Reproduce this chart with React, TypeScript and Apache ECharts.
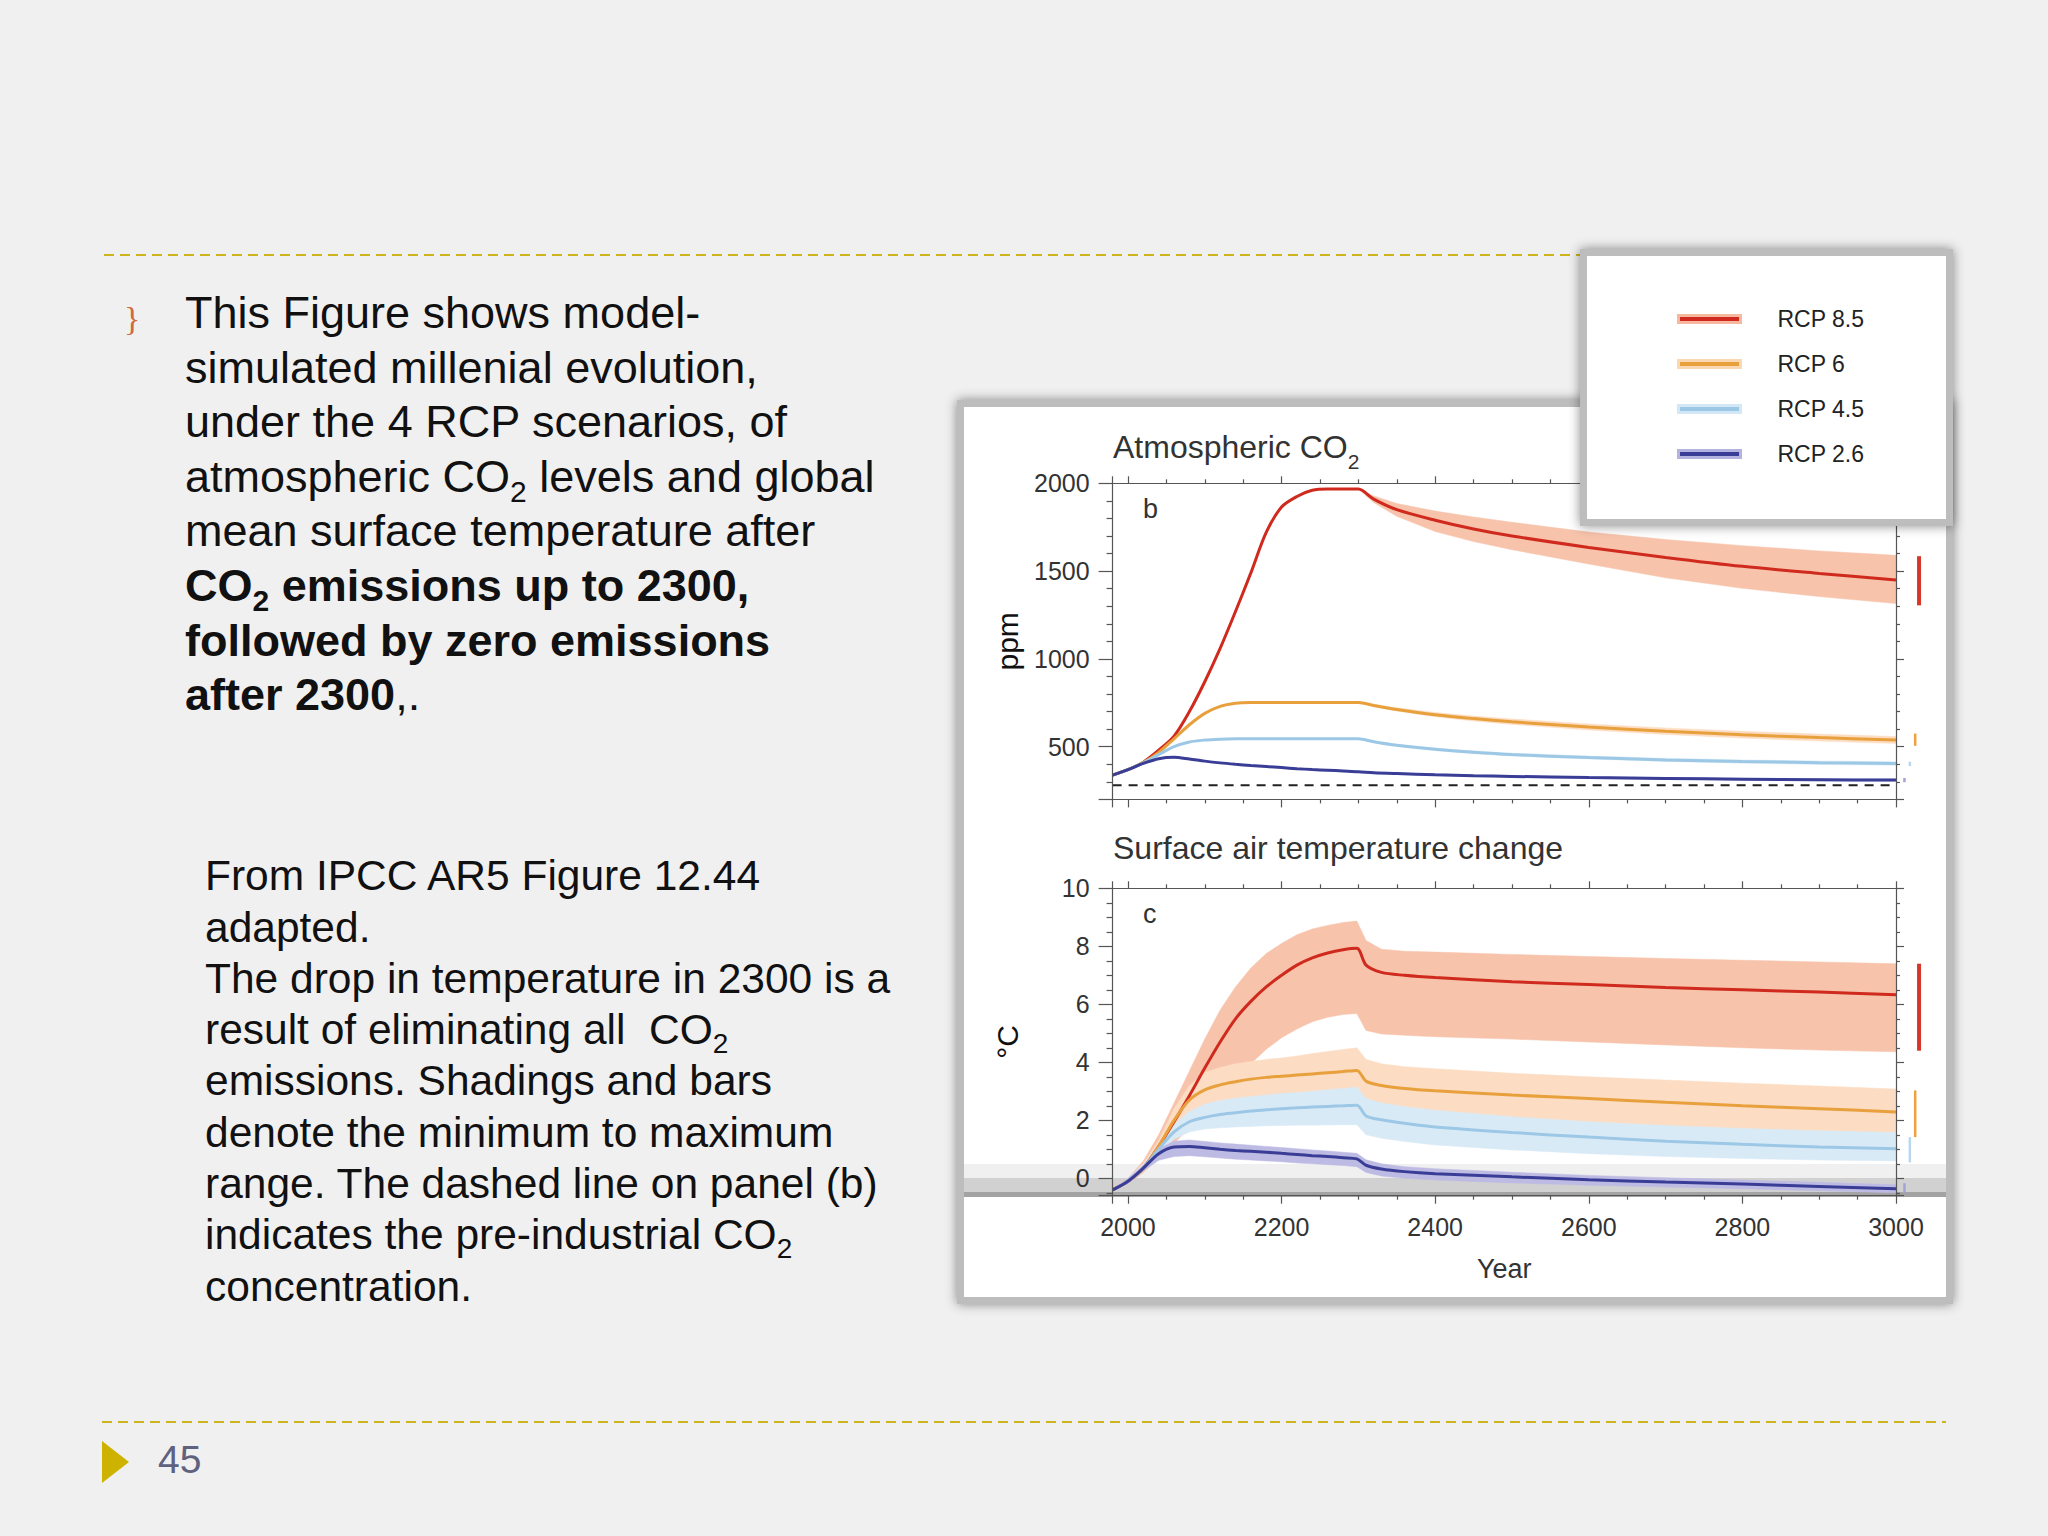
import React, { useEffect, useRef } from 'react';
import * as echarts from 'echarts';

const FONT = '"Liberation Sans", Arial, sans-serif';
const TXT = '#333333';

// ---------- legend / scenario names ----------
const scenarioNames = ['RCP 8.5', 'RCP 6', 'RCP 4.5', 'RCP 2.6'];
const lineColors = ['#cf2a1d', '#e8a03c', '#9cc8e6', '#3a3d96'];
const bandColors = ['#f7c3ab', '#fcdcc2', '#d9eaf7', '#bdbbe3'];
const haloColors = ['#f6b9a0', '#fbd8b4', '#d3e8f6', '#b4b3df'];
const barColors = ['#d9362b', '#f0a040', '#b8d8f0', '#a4a3d8'];

// ---------- panel b : atmospheric CO2 (ppm) ----------
const co2Years = [1980, 2000, 2020, 2040, 2060, 2080, 2100, 2120, 2140, 2160, 2180, 2200, 2220, 2240, 2260, 2280, 2300, 2320, 2350, 2400, 2450, 2500, 2600, 2700, 2800, 2900, 3000];
const co2RCP85 = [338, 369, 412, 480, 560, 700, 870, 1060, 1270, 1490, 1720, 1865, 1925, 1960, 1967, 1967, 1967, 1910, 1850, 1790, 1740, 1700, 1635, 1578, 1527, 1487, 1450];
const co2RCP6 = [338, 369, 410, 468, 545, 625, 690, 730, 748, 752, 752, 752, 752, 752, 752, 752, 752, 735, 712, 682, 660, 642, 612, 588, 568, 552, 538];
const co2RCP45 = [338, 369, 408, 455, 500, 527, 538, 543, 545, 545, 545, 545, 545, 545, 545, 545, 545, 528, 508, 485, 468, 455, 438, 425, 416, 409, 404];
const co2RCP26 = [338, 369, 405, 432, 440, 430, 418, 408, 400, 393, 387, 381, 375, 370, 366, 362, 358, 352, 347, 340, 335, 331, 324, 319, 315, 312, 310];

const co2BandYears = [2300, 2320, 2350, 2400, 2450, 2500, 2600, 2700, 2800, 2900, 3000];
const co2RCP85Lo = [1967, 1890, 1812, 1725, 1668, 1622, 1540, 1462, 1402, 1355, 1315];
const co2RCP85Hi = [1967, 1928, 1885, 1842, 1808, 1778, 1722, 1680, 1645, 1615, 1590];
const co2RCP6Lo = [752, 728, 703, 670, 646, 627, 595, 570, 549, 532, 518];
const co2RCP6Hi = [752, 742, 722, 695, 675, 658, 630, 607, 588, 572, 558];
const co2RCP45Lo = [545, 524, 502, 478, 460, 447, 430, 416, 406, 399, 394];
const co2RCP45Hi = [545, 532, 514, 492, 476, 463, 447, 434, 425, 419, 414];
const co2RCP26Lo = [358, 350, 344, 336, 331, 327, 320, 314, 310, 306, 304];
const co2RCP26Hi = [358, 354, 350, 344, 339, 335, 329, 324, 320, 318, 316];

const co2BarX = [3030, 3025, 3018, 3011];
const co2BarLo = [1305, 505, 390, 298];
const co2BarHi = [1585, 575, 415, 322];
const preIndustrialCO2 = 280;

// ---------- panel c : surface air temperature change (°C) ----------
const tempYears = [1980, 2000, 2020, 2040, 2060, 2080, 2100, 2120, 2140, 2160, 2180, 2200, 2220, 2240, 2260, 2280, 2298, 2310, 2330, 2360, 2400, 2500, 2600, 2700, 2800, 2900, 3000];
const tRCP85 = [-0.4, -0.1, 0.35, 1.1, 1.95, 2.85, 3.8, 4.7, 5.5, 6.1, 6.6, 7.0, 7.35, 7.6, 7.77, 7.88, 7.93, 7.35, 7.1, 7.0, 6.92, 6.78, 6.68, 6.58, 6.5, 6.42, 6.33];
const tRCP85Hi = [-0.3, 0.0, 0.6, 1.5, 2.6, 3.7, 4.8, 5.8, 6.6, 7.25, 7.75, 8.1, 8.4, 8.6, 8.72, 8.82, 8.87, 8.2, 7.9, 7.83, 7.8, 7.72, 7.65, 7.58, 7.52, 7.46, 7.4];
const tRCP85Lo = [-0.45, -0.2, 0.2, 0.7, 1.2, 1.75, 2.35, 2.9, 3.45, 3.95, 4.45, 4.85, 5.15, 5.4, 5.55, 5.65, 5.68, 5.1, 4.98, 4.93, 4.88, 4.8, 4.7, 4.6, 4.5, 4.42, 4.36];
const tRCP6 = [-0.4, -0.1, 0.35, 1.1, 2.0, 2.7, 3.05, 3.22, 3.33, 3.42, 3.48, 3.52, 3.56, 3.6, 3.64, 3.68, 3.72, 3.35, 3.2, 3.1, 3.02, 2.87, 2.75, 2.62, 2.5, 2.4, 2.29];
const tRCP6Hi = [-0.35, 0.0, 0.5, 1.3, 2.4, 3.2, 3.65, 3.82, 3.95, 4.03, 4.1, 4.15, 4.22, 4.3, 4.37, 4.44, 4.5, 4.1, 3.95, 3.85, 3.78, 3.62, 3.5, 3.39, 3.28, 3.18, 3.08];
const tRCP6Lo = [-0.45, -0.2, 0.25, 0.9, 1.5, 2.05, 2.3, 2.42, 2.5, 2.54, 2.57, 2.6, 2.63, 2.66, 2.69, 2.72, 2.75, 2.4, 2.25, 2.18, 2.1, 1.97, 1.85, 1.73, 1.62, 1.52, 1.42];
const tRCP45 = [-0.4, -0.1, 0.35, 1.0, 1.6, 1.95, 2.1, 2.2, 2.26, 2.32, 2.36, 2.4, 2.43, 2.46, 2.48, 2.5, 2.52, 2.15, 2.02, 1.9, 1.77, 1.58, 1.42, 1.28, 1.17, 1.08, 1.02];
const tRCP45Hi = [-0.35, 0.0, 0.5, 1.15, 1.85, 2.3, 2.55, 2.68, 2.76, 2.82, 2.87, 2.92, 2.96, 3.0, 3.05, 3.1, 3.15, 2.75, 2.6, 2.47, 2.35, 2.12, 1.95, 1.82, 1.72, 1.64, 1.58];
const tRCP45Lo = [-0.45, -0.2, 0.25, 0.85, 1.35, 1.6, 1.7, 1.74, 1.77, 1.79, 1.81, 1.82, 1.83, 1.83, 1.84, 1.85, 1.85, 1.5, 1.38, 1.27, 1.15, 0.98, 0.85, 0.75, 0.68, 0.63, 0.6];
const tRCP26 = [-0.4, -0.1, 0.35, 0.85, 1.08, 1.1, 1.05, 1.0, 0.96, 0.93, 0.9, 0.86, 0.82, 0.78, 0.75, 0.71, 0.67, 0.45, 0.32, 0.23, 0.16, 0.05, -0.05, -0.13, -0.2, -0.28, -0.36];
const tRCP26Hi = [-0.35, 0.0, 0.45, 1.02, 1.28, 1.32, 1.27, 1.22, 1.18, 1.14, 1.1, 1.06, 1.02, 0.98, 0.94, 0.9, 0.86, 0.64, 0.5, 0.4, 0.33, 0.21, 0.1, 0.02, -0.06, -0.14, -0.22];
const tRCP26Lo = [-0.45, -0.2, 0.25, 0.62, 0.75, 0.78, 0.74, 0.7, 0.66, 0.63, 0.6, 0.57, 0.53, 0.5, 0.47, 0.44, 0.4, 0.2, 0.08, 0.0, -0.06, -0.16, -0.24, -0.3, -0.36, -0.43, -0.5];

const tempBarX = [3030, 3025, 3018, 3011];
const tempBarLo = [4.4, 1.42, 0.55, -0.5];
const tempBarHi = [7.4, 3.03, 1.42, -0.17];

// ---------- slide texts ----------
const introLines = [
  '{n|This Figure shows model-}',
  '{n|simulated millenial evolution,}',
  '{n|under the 4 RCP scenarios, of}',
  '{n|atmospheric CO}{s|2}{n| levels and global}',
  '{n|mean surface temperature after}',
  '{b|CO}{bs|2}{b| emissions up to 2300,}',
  '{b|followed by zero emissions}',
  '{b|after 2300}{n|,.}',
];
const noteLines = [
  '{n|From IPCC AR5 Figure 12.44}',
  '{n|adapted.}',
  '{n|The drop in temperature in 2300 is a}',
  '{n|result of eliminating all  CO}{s|2}',
  '{n|emissions. Shadings and bars}',
  '{n|denote the minimum to maximum}',
  '{n|range. The dashed line on panel (b)}',
  '{n|indicates the pre-industrial CO}{s|2}',
  '{n|concentration.}',
];
const pageNumber = '45';

const AX = { color: '#555555', width: 1.2 };

function fmtYear(v: number) {
  return v >= 2000 && v % 200 === 0 ? String(v) : '';
}
function fmtPpm(v: number) {
  return v >= 500 && v % 500 === 0 ? String(v) : '';
}
function fmtTemp(v: number) {
  const r = Math.round(v);
  return v >= 0 && Math.abs(v - r) < 1e-6 && r % 2 === 0 ? String(r) : '';
}

function makeX(gridIndex: number, position: string, withLabels: boolean) {
  return {
    type: 'value', gridIndex, position, min: 1980, max: 3000, splitNumber: 5, minInterval: 200, maxInterval: 200, z: 4,
    axisLine: { show: true, onZero: false, lineStyle: AX },
    axisTick: { show: true, inside: false, length: position === 'top' ? 7 : 8, lineStyle: AX },
    minorTick: { show: true, splitNumber: 4, length: 4, lineStyle: AX },
    splitLine: { show: false },
    minorSplitLine: { show: false },
    axisLabel: withLabels
      ? { show: true, margin: 19, fontSize: 25, fontFamily: FONT, color: TXT, formatter: fmtYear }
      : { show: false },
    name: withLabels ? 'Year' : '',
    nameLocation: 'middle', nameGap: 60,
    nameTextStyle: { fontSize: 27, fontFamily: FONT, color: TXT },
  };
}

function makeY(gridIndex: number, position: string, min: number, max: number, step: number, minorSplit: number,
  withLabels: boolean, name: string, fmt: (v: number) => string) {
  const left = position === 'left';
  return {
    type: 'value', gridIndex, position, min, max, splitNumber: 5, minInterval: step, maxInterval: step, z: 4,
    axisLine: { show: true, onZero: false, lineStyle: AX },
    axisTick: { show: true, inside: false, length: left ? 14 : 8, lineStyle: AX },
    minorTick: { show: true, splitNumber: minorSplit, length: left ? 6 : 4, lineStyle: AX },
    splitLine: { show: false },
    minorSplitLine: { show: false },
    axisLabel: withLabels
      ? { show: true, margin: 23, fontSize: 25, fontFamily: FONT, color: TXT, formatter: fmt }
      : { show: false },
    name: withLabels ? name : '',
    nameLocation: 'middle', nameGap: 90, nameRotate: 90,
    nameTextStyle: { fontSize: 30, fontFamily: FONT, color: '#111111' },
  };
}

function bandSeries(name: string, ai: number, years: number[], lo: number[], hi: number[], color: string) {
  const data = years.map((y, i) => [y, lo[i], hi[i]]);
  return {
    type: 'custom', name, xAxisIndex: ai, yAxisIndex: ai, z: 2, silent: true,
    data, encode: { x: 0, y: [1, 2] },
    renderItem: (params: any, api: any) => {
      if (params.dataIndex !== 0) return null;
      const top = data.map((d) => api.coord([d[0], d[2]]));
      const bot = data.map((d) => api.coord([d[0], d[1]])).reverse();
      return {
        type: 'polygon',
        shape: { points: top.concat(bot) },
        style: { fill: color, stroke: color, lineWidth: 0.5 },
      };
    },
  };
}

function lineSeries(name: string, ai: number, years: number[], vals: number[], color: string) {
  return {
    type: 'line', name, xAxisIndex: ai, yAxisIndex: ai, z: 3, silent: true,
    data: years.map((y, i) => [y, vals[i]]),
    symbol: 'none', showSymbol: false, smooth: 0.3,
    lineStyle: { color, width: 3 }, itemStyle: { color },
  };
}

function barSeries(name: string, ai: number, x: number, lo: number, hi: number, color: string, width: number) {
  return {
    type: 'custom', name, xAxisIndex: ai, yAxisIndex: ai, z: 3, silent: true, clip: false,
    data: [[x, lo, hi]], encode: { x: 0, y: [1, 2] },
    renderItem: (params: any, api: any) => {
      const p1 = api.coord([api.value(0), api.value(1)]);
      const p2 = api.coord([api.value(0), api.value(2)]);
      return {
        type: 'line',
        shape: { x1: p1[0], y1: p1[1], x2: p2[0], y2: p2[1] },
        style: { stroke: color, lineWidth: width },
      };
    },
  };
}

function buildOption() {
  const co2Lines = [co2RCP85, co2RCP6, co2RCP45, co2RCP26];
  const co2Lo = [co2RCP85Lo, co2RCP6Lo, co2RCP45Lo, co2RCP26Lo];
  const co2Hi = [co2RCP85Hi, co2RCP6Hi, co2RCP45Hi, co2RCP26Hi];
  const tLines = [tRCP85, tRCP6, tRCP45, tRCP26];
  const tLo = [tRCP85Lo, tRCP6Lo, tRCP45Lo, tRCP26Lo];
  const tHi = [tRCP85Hi, tRCP6Hi, tRCP45Hi, tRCP26Hi];

  const series: any[] = [];
  scenarioNames.forEach((n, i) => series.push(bandSeries(n + ' CO2 range', 0, co2BandYears, co2Lo[i], co2Hi[i], bandColors[i])));
  scenarioNames.forEach((n, i) => series.push(bandSeries(n + ' temperature range', 1, tempYears, tLo[i], tHi[i], bandColors[i])));
  series.push({
    type: 'line', name: 'Pre-industrial CO2', xAxisIndex: 0, yAxisIndex: 0, z: 3, silent: true,
    data: [[1980, preIndustrialCO2], [3000, preIndustrialCO2]], symbol: 'none',
    lineStyle: { color: '#222222', width: 2, type: [9, 7] },
  });
  scenarioNames.forEach((n, i) => series.push(lineSeries(n, 0, co2Years, co2Lines[i], lineColors[i])));
  scenarioNames.forEach((n, i) => series.push(lineSeries(n, 1, tempYears, tLines[i], lineColors[i])));
  scenarioNames.forEach((n, i) => series.push(barSeries(n + ' CO2 bar', 0, co2BarX[i], co2BarLo[i], co2BarHi[i], barColors[i], i === 0 ? 4 : 2.5)));
  scenarioNames.forEach((n, i) => series.push(barSeries(n + ' temperature bar', 1, tempBarX[i], tempBarLo[i], tempBarHi[i], barColors[i], i === 0 ? 4 : 2.5)));

  const nStyle = { fontSize: 45, fontFamily: FONT, fill: '#111111' };
  const bStyle = { ...nStyle, fontWeight: 'bold' };
  const sStyle = { fontSize: 30, fontFamily: FONT, fill: '#111111', padding: [30, 0, 0, 0] };
  const bsStyle = { ...sStyle, fontWeight: 'bold' };
  const n2 = { fontSize: 42.5, fontFamily: FONT, fill: '#111111' };
  const s2 = { fontSize: 28, fontFamily: FONT, fill: '#111111', padding: [28, 0, 0, 0] };

  const graphics: any[] = [
    { type: 'line', z: 0, shape: { x1: 104, y1: 255, x2: 1946, y2: 255 }, style: { stroke: '#cdb31c', lineWidth: 2, lineDash: [10, 6] } },
    { type: 'line', z: 0, shape: { x1: 102, y1: 1422, x2: 1946, y2: 1422 }, style: { stroke: '#cdb31c', lineWidth: 2, lineDash: [10, 6] } },
    { type: 'polygon', z: 0, shape: { points: [[102, 1441], [102, 1483], [129, 1462]] }, style: { fill: '#cdb300' } },
    { type: 'text', z: 10, x: 158, y: 1459, style: { text: pageNumber, fontSize: 39, fontFamily: FONT, fill: '#5f617f', verticalAlign: 'middle' } },
    { type: 'text', z: 10, x: 124, y: 318, style: { text: '}', fontSize: 34, fontFamily: '"Liberation Serif", serif', fill: '#d06a3c', verticalAlign: 'middle' } },
    // chart panel: grey blurred frame + white face
    { type: 'rect', z: 0, shape: { x: 957, y: 400, width: 996, height: 904 }, style: { fill: '#bdbdbd', shadowBlur: 12, shadowColor: 'rgba(0,0,0,0.45)' } },
    { type: 'rect', z: 0, shape: { x: 964, y: 407, width: 982, height: 890 }, style: { fill: '#ffffff' } },
    // seam shadow between the two stacked image parts
    { type: 'rect', z: 1, shape: { x: 964, y: 1164, width: 982, height: 14 }, style: { fill: 'rgba(0,0,0,0.06)' } },
    { type: 'rect', z: 1, shape: { x: 964, y: 1178, width: 982, height: 14 }, style: { fill: 'rgba(0,0,0,0.18)' } },
    { type: 'rect', z: 1, shape: { x: 964, y: 1192, width: 982, height: 5 }, style: { fill: 'rgba(0,0,0,0.36)' } },
    // legend panel
    { type: 'rect', z: 10, shape: { x: 1580, y: 249, width: 373, height: 277 }, style: { fill: '#bdbdbd', shadowBlur: 12, shadowColor: 'rgba(0,0,0,0.45)' } },
    { type: 'rect', z: 10, shape: { x: 1587, y: 256, width: 359, height: 263 }, style: { fill: '#ffffff' } },
    // panel titles
    {
      type: 'text', z: 10, x: 1113, y: 447,
      style: {
        text: '{a|Atmospheric CO}{s|2}', verticalAlign: 'middle',
        rich: { a: { fontSize: 32, fontFamily: FONT, fill: TXT }, s: { fontSize: 21, fontFamily: FONT, fill: TXT, padding: [28, 0, 0, 0] } },
      },
    },
    { type: 'text', z: 10, x: 1113, y: 848, style: { text: 'Surface air temperature change', fontSize: 32, fontFamily: FONT, fill: TXT, verticalAlign: 'middle' } },
    { type: 'text', z: 10, x: 1143, y: 509, style: { text: 'b', fontSize: 27, fontFamily: FONT, fill: TXT, verticalAlign: 'middle' } },
    { type: 'text', z: 10, x: 1143, y: 914, style: { text: 'c', fontSize: 27, fontFamily: FONT, fill: TXT, verticalAlign: 'middle' } },
  ];
  introLines.forEach((t, i) => {
    graphics.push({
      type: 'text', z: 10, x: 185, y: 312.5 + 54.6 * i,
      style: { text: t, verticalAlign: 'middle', rich: { n: nStyle, b: bStyle, s: sStyle, bs: bsStyle } },
    });
  });
  noteLines.forEach((t, i) => {
    graphics.push({
      type: 'text', z: 10, x: 205, y: 875.8 + 51.28 * i,
      style: { text: t, verticalAlign: 'middle', rich: { n: n2, s: s2 } },
    });
  });

  return {
    animation: false,
    backgroundColor: '#f1f0f0',
    grid: [
      { left: 1112.6, top: 483.3, width: 783.4, height: 316.1, containLabel: false },
      { left: 1112.6, top: 888.3, width: 783.4, height: 307.4, containLabel: false },
    ],
    xAxis: [makeX(0, 'bottom', false), makeX(1, 'bottom', true), makeX(0, 'top', false), makeX(1, 'top', false)],
    yAxis: [
      makeY(0, 'left', 200, 2000, 500, 5, true, 'ppm', fmtPpm),
      makeY(1, 'left', -0.6, 10, 2, 4, true, '°C', fmtTemp),
      makeY(0, 'right', 200, 2000, 500, 5, false, '', fmtPpm),
      makeY(1, 'right', -0.6, 10, 2, 4, false, '', fmtTemp),
    ],
    legend: {
      orient: 'vertical', left: 1677, top: 307, padding: 0, itemGap: 21, itemWidth: 62, itemHeight: 7,
      icon: 'rect', selectedMode: false, z: 11,
      textStyle: { fontSize: 23, fontFamily: FONT, color: '#222222', lineHeight: 24, padding: [0, 0, 0, 32] },
      data: scenarioNames.map((name, i) => ({
        name, icon: 'rect',
        itemStyle: { color: lineColors[i], borderColor: haloColors[i], borderWidth: 3 },
      })),
    },
    graphic: graphics,
    series,
  };
}

export default function App() {
  const ref = useRef<HTMLDivElement>(null);
  useEffect(() => {
    if (!ref.current) return;
    const chart = echarts.init(ref.current, undefined, { renderer: 'svg' });
    chart.setOption(buildOption() as any);
    return () => chart.dispose();
  }, []);
  return (
    <div
      ref={ref}
      style={{ position: 'absolute', left: 0, top: 0, width: 2048, height: 1536, background: '#f1f0f0' }}
    />
  );
}
